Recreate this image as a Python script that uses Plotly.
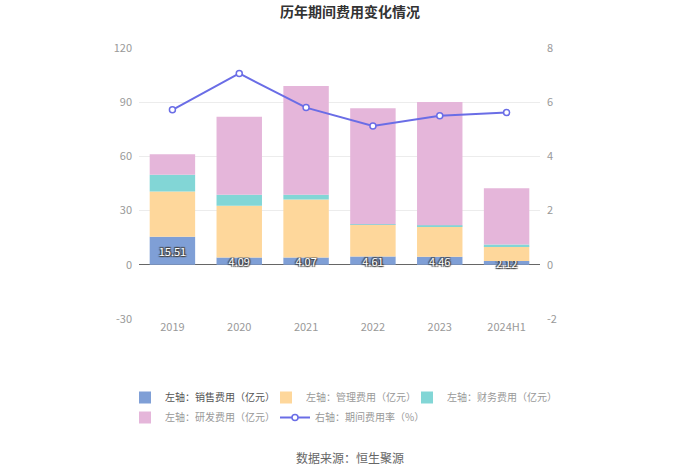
import plotly.graph_objects as go

categories = ["2019", "2020", "2021", "2022", "2023", "2024H1"]
sales = [15.51, 4.09, 4.07, 4.61, 4.46, 2.12]
mgmt = [25.1, 28.6, 32.1, 17.6, 16.8, 8.0]
finance = [9.2, 6.1, 2.6, 0.2, 0.6, 1.1]
rnd = [11.4, 43.2, 60.2, 64.2, 68.3, 31.2]
rate = [5.72, 7.06, 5.80, 5.12, 5.50, 5.62]
left_ticks = [-30, 0, 30, 60, 90, 120]
right_ticks = [-2, 0, 2, 4, 6, 8]

names = ["左轴：销售费用（亿元）", "左轴：管理费用（亿元）", "左轴：财务费用（亿元）",
         "左轴：研发费用（亿元）", "右轴：期间费用率（%）"]
colors = ["#7f9fd6", "#fed79b", "#82d6d6", "#e5b6da", "#6a6de6"]
legend_ids = ["legend", "legend2", "legend3", "legend4", "legend5"]
# legend anchor positions in pixels (left, top)
legend_pos = [(125, 383), (266, 383), (407, 383), (125, 403), (275, 403)]

W, H = 700, 474
ML, MR, MT, MB = 139, 160, 48, 155
PW, PH = W - ML - MR, H - MT - MB
FONT = "Noto Sans CJK SC"
fig = go.Figure()
series = [sales, mgmt, finance, rnd]
for i, vals in enumerate(series):
    kw = {}
    if i == 0:
        kw = dict(text=[f"{v:.2f}" for v in vals], textposition="inside",
                  insidetextanchor="middle",
                  textfont=dict(color="white", size=11, family=FONT,
                                shadow="1px 1px 1px #444, -1px -1px 1px #444, 1px -1px 1px #444, -1px 1px 1px #444"),
                  constraintext="none")
    fig.add_trace(go.Bar(x=categories, y=vals, name=names[i], legend=legend_ids[i],
                         showlegend=True,
                         marker=dict(color=colors[i], line=dict(width=0)),
                         hoverinfo="skip", **kw))

fig.add_trace(go.Scatter(x=categories, y=rate, name=names[4], yaxis="y2",
                         legend=legend_ids[4], showlegend=True, mode="lines+markers",
                         line=dict(color=colors[4], width=2),
                         marker=dict(symbol="circle", size=6, color="white",
                                     line=dict(color=colors[4], width=1.5))))

legends = {}
for i, lid in enumerate(legend_ids):
    px, py = legend_pos[i]
    legends[lid] = dict(xref="container", yref="container", x=px / W, y=1 - py / H,
                        xanchor="left", yanchor="top", bgcolor="rgba(0,0,0,0)",
                        visible=True,
                        font=dict(size=10, color="#555555" if i == 0 else "#999999", family=FONT),
                        itemwidth=30)

fig.update_layout(
    width=W, height=H, showlegend=True,
    barmode="relative", bargap=0.32,
    plot_bgcolor="white", paper_bgcolor="white",
    margin=dict(l=ML, r=MR, t=MT, b=MB, autoexpand=False),
    font=dict(family=FONT, color="#999999", size=11),
    title=dict(text="<b>历年期间费用变化情况</b>", x=0.5, xanchor="center",
               yref="container", y=1 - 12 / H, yanchor="middle",
               font=dict(size=14, color="#333333", family=FONT)),
    xaxis=dict(showgrid=False, showline=False, ticks="", tickfont=dict(size=11, color="#999999")),
    yaxis=dict(range=[-30, 120], tickvals=left_ticks, ticktext=[str(v) for v in left_ticks],
               gridcolor="#ececec", zeroline=True, zerolinecolor="#666666",
               zerolinewidth=1, ticks="", ticklabelstandoff=6,
               tickfont=dict(size=11, color="#999999")),
    yaxis2=dict(range=[-2, 8], tickvals=right_ticks, ticktext=[str(v) for v in right_ticks],
                overlaying="y", side="right", showgrid=False, zeroline=False,
                ticklabelstandoff=6, tickfont=dict(size=11, color="#999999")),
    annotations=[dict(text="数据来源：恒生聚源", xref="paper", yref="paper",
                      x=(350 - ML) / PW, y=-(457 - (H - MB)) / PH, xanchor="center", yanchor="middle",
                      showarrow=False, font=dict(size=12, color="#666666"))],
    **legends,
)
fig.write_html("out.html", config={"displayModeBar": False},
               post_script="document.body.style.margin='0';")
